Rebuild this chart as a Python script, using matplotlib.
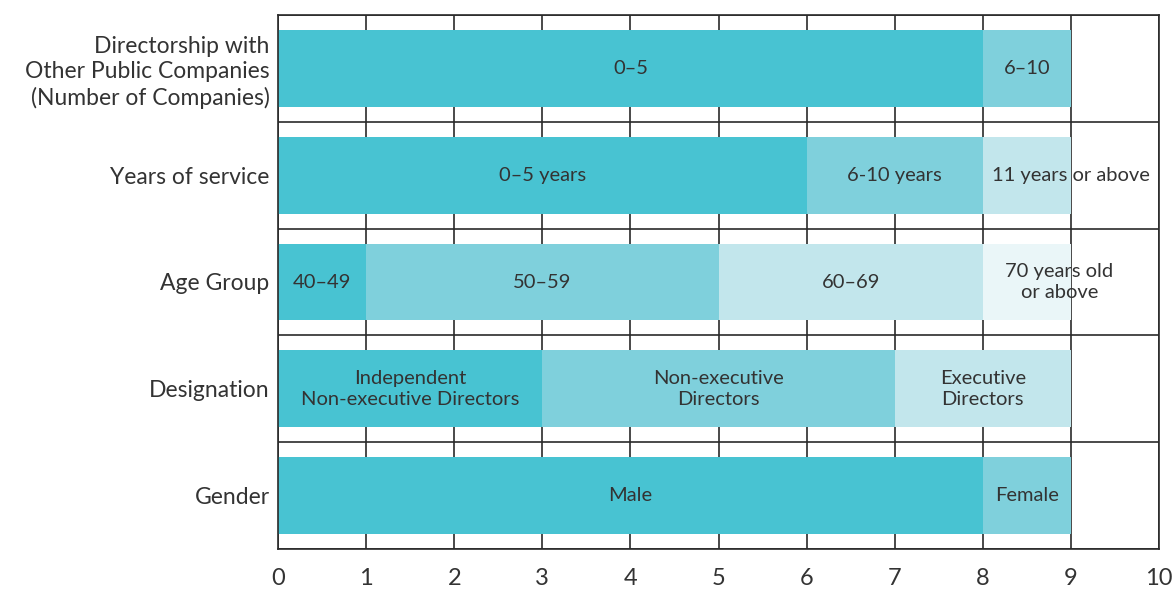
import numpy as np
import matplotlib.pyplot as plt

# === Board composition data (number of directors) ===
categories = ['Gender', 'Designation', 'Age Group', 'Years of service',
              'Directorship with\nOther Public Companies\n(Number of Companies)']

gender_labels = ['Male', 'Female']
gender_counts = [8, 1]

designation_labels = ['Independent\nNon-executive Directors', 'Non-executive\nDirectors',
                      'Executive\nDirectors']
designation_counts = [3, 4, 2]

age_labels = ['40–49', '50–59', '60–69', '70 years old\nor above']
age_counts = [1, 4, 3, 1]

service_labels = ['0–5 years', '6-10 years', '11 years or above']
service_counts = [6, 2, 1]

directorship_labels = ['0–5', '6–10']
directorship_counts = [8, 1]

rows = [
    (gender_labels, gender_counts),
    (designation_labels, designation_counts),
    (age_labels, age_counts),
    (service_labels, service_counts),
    (directorship_labels, directorship_counts),
]

shades = ['#48c3d2', '#7fd0dc', '#c2e6ec', '#eaf6f8']
text_color = '#333333'

# labels too wide for their segment get nudged
label_x = {'11 years or above': 9.0, '70 years old\nor above': 8.87}

plt.rcParams['font.family'] = ['Lato', 'DejaVu Sans']

fig = plt.figure(figsize=(11.75, 5.91), dpi=100)
ax = fig.add_axes([278 / 1175, 1 - 549 / 591, (1159 - 278) / 1175, (549 - 15) / 591])

for i, (labels, counts) in enumerate(rows):
    left = 0
    for j, (lab, val) in enumerate(zip(labels, counts)):
        ax.barh(i, val, left=left, height=0.72, color=shades[j], zorder=2)
        x = label_x.get(lab, left + val / 2)
        ax.text(x, i, lab, ha='center', va='center', fontsize=14.5,
                color=text_color, linespacing=1.25, zorder=3)
        left += val

ax.set_xlim(0, 10)
ax.set_ylim(-0.5, len(categories) - 0.5)
ax.set_xticks(np.arange(0, 11))
ax.set_yticks(np.arange(len(categories)))
ax.set_yticklabels(categories, fontsize=16.5, color=text_color, linespacing=1.25)
ax.set_yticks(np.arange(len(categories) + 1) - 0.5, minor=True)
ax.tick_params(axis='x', length=0, pad=14, labelsize=17, labelcolor=text_color)
ax.tick_params(axis='y', which='both', length=0, pad=6)

ax.grid(axis='x', which='major', color='#2a2a2a', linewidth=1.2, zorder=0)
ax.grid(axis='y', which='minor', color='#2a2a2a', linewidth=1.2, zorder=0)
ax.set_axisbelow(True)
for s in ax.spines.values():
    s.set_color('#2a2a2a')
    s.set_linewidth(1.2)

fig.savefig('out.png', dpi=100)
